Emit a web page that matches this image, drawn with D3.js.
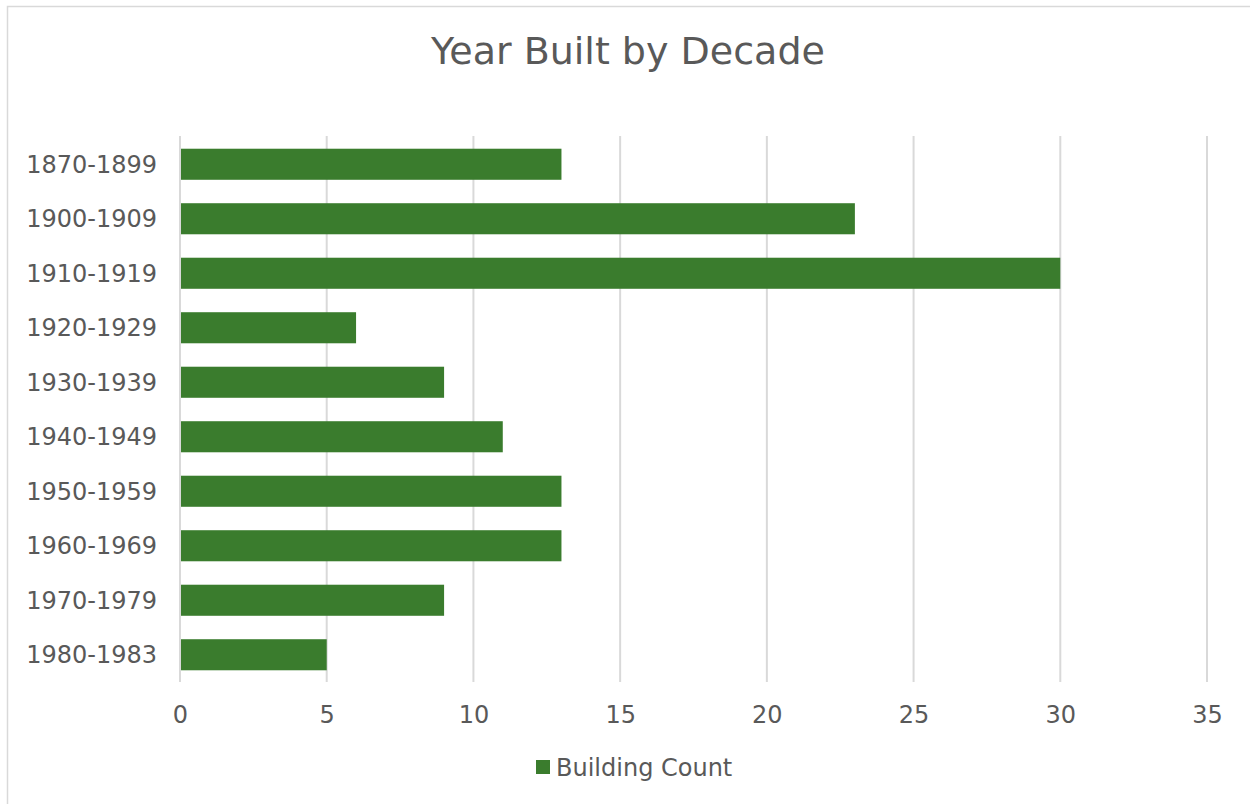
<!DOCTYPE html>
<html>
<head>
<meta charset="utf-8">
<script src="https://cdn.jsdelivr.net/npm/d3@7"></script>
<style>
  body { margin: 0; background: #fff; }
  text { font-family: "DejaVu Sans", Verdana, sans-serif; fill: #595959; }
</style>
</head>
<body>
<svg width="1250" height="804"></svg>
<script>
var categories = ["1870-1899", "1900-1909", "1910-1919", "1920-1929", "1930-1939",
                  "1940-1949", "1950-1959", "1960-1969", "1970-1979", "1980-1983"];
var counts = [13, 23, 30, 6, 9, 11, 13, 13, 9, 5];
var xTicks = [0, 5, 10, 15, 20, 25, 30, 35];
var seriesName = "Building Count";

var svg = d3.select("svg"),
    width = +svg.attr("width"),
    height = +svg.attr("height");

var green = "#3a7c2d";

// chart area frame
svg.append("rect")
    .attr("x", 7.5).attr("y", 6.5)
    .attr("width", width).attr("height", height)
    .attr("fill", "#fff")
    .attr("stroke", "#d9d9d9")
    .attr("stroke-width", 1.5);

var plot = { left: 180, right: 1207, top: 137, bottom: 682 };

var x = d3.scaleLinear()
    .domain([0, 35])
    .range([plot.left, plot.right]);

var y = d3.scaleBand()
    .domain(categories)
    .range([plot.top, plot.bottom])
    .paddingInner(0.43)
    .paddingOuter(0.215);

// gridlines
svg.append("g")
    .selectAll("line")
    .data(xTicks)
    .enter().append("line")
    .attr("x1", function (d) { return x(d); })
    .attr("x2", function (d) { return x(d); })
    .attr("y1", plot.top - 1)
    .attr("y2", plot.bottom)
    .attr("stroke", "#d9d9d9")
    .attr("stroke-width", 2);

// bars
svg.append("g")
    .selectAll("rect")
    .data(counts)
    .enter().append("rect")
    .attr("x", x(0) + 1)
    .attr("y", function (d, i) { return y(categories[i]); })
    .attr("width", function (d) { return x(d) - x(0) - 1; })
    .attr("height", y.bandwidth())
    .attr("fill", green);

// x axis labels
var xAxis = svg.append("g")
    .attr("transform", "translate(0," + plot.bottom + ")")
    .call(d3.axisBottom(x).tickValues(xTicks).tickSize(0).tickPadding(24));
xAxis.select(".domain").remove();
xAxis.selectAll("text")
    .attr("font-size", 24)
    .attr("font-family", null)
    .attr("fill", null);

// y axis labels
var yAxis = svg.append("g")
    .attr("transform", "translate(" + plot.left + ",1)")
    .call(d3.axisLeft(y).tickSize(0).tickPadding(23));
yAxis.select(".domain").remove();
yAxis.selectAll("text")
    .attr("font-size", 24)
    .attr("font-family", null)
    .attr("fill", null);

// title
svg.append("text")
    .attr("x", 628)
    .attr("y", 64)
    .attr("text-anchor", "middle")
    .attr("font-size", 38)
    .text("Year Built by Decade");

// legend
var legend = svg.append("g").attr("transform", "translate(536,760)");
legend.append("rect")
    .attr("width", 14).attr("height", 14)
    .attr("fill", green);
legend.append("text")
    .attr("x", 20)
    .attr("y", 16)
    .attr("font-size", 24)
    .text(seriesName);
</script>
</body>
</html>
